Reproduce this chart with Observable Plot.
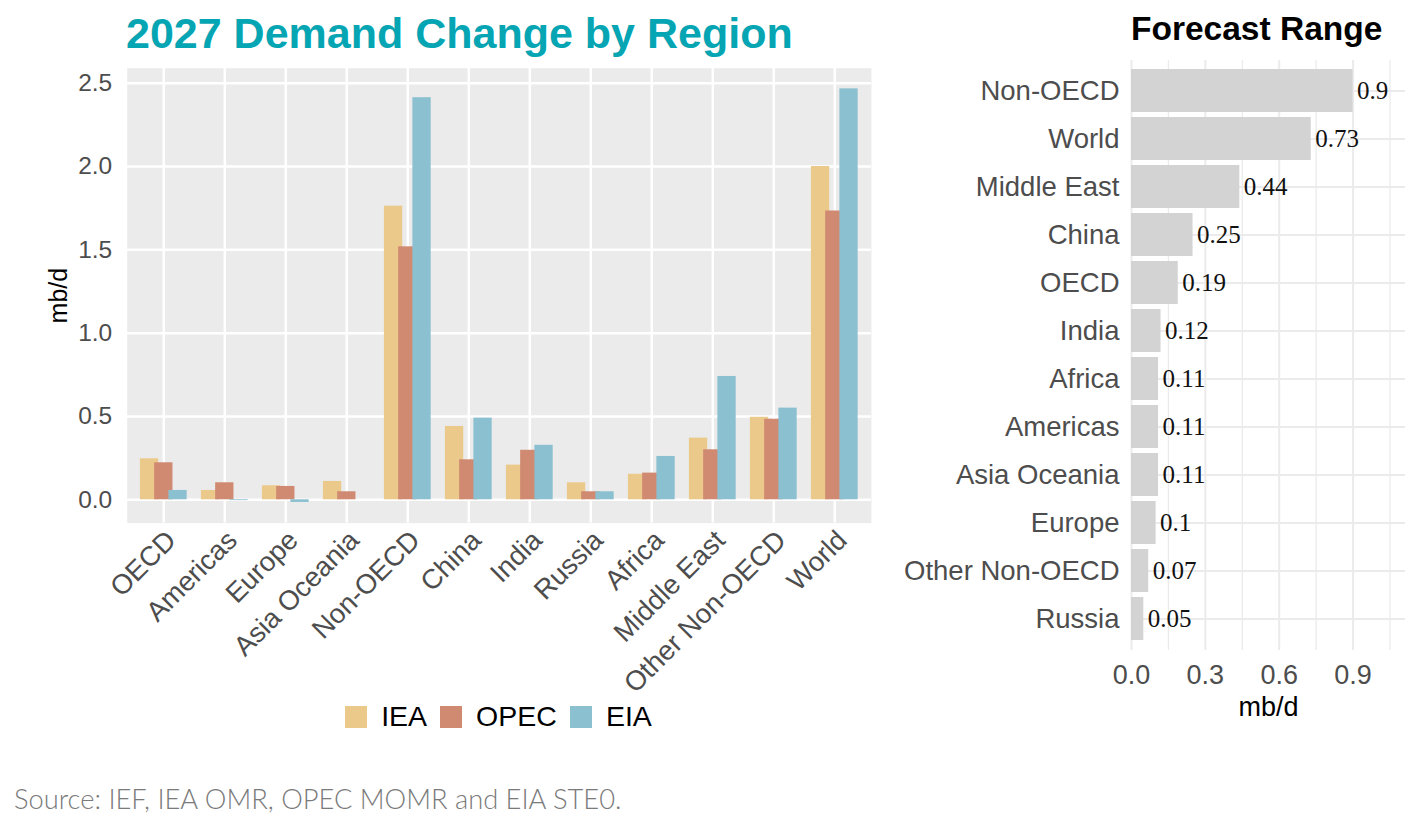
<!DOCTYPE html>
<html><head><meta charset="utf-8">
<script src="https://cdn.jsdelivr.net/npm/d3@7"></script>
<script src="https://cdn.jsdelivr.net/npm/@observablehq/plot@0.6"></script>
<style>
html,body{margin:0;padding:0;background:#fff;}
body{width:1410px;height:820px;position:relative;overflow:hidden;font-family:"Liberation Sans",Arial,sans-serif;}
.abs{position:absolute;}
#title{left:126px;top:12px;font-size:43px;font-weight:bold;color:#05A5B3;white-space:nowrap;line-height:1;}
#title2{left:1131px;top:12px;font-size:33.5px;font-weight:bold;color:#000;white-space:nowrap;line-height:1;}
#caption{left:14px;top:785px;font-family:Lato,"Liberation Sans",sans-serif;font-weight:300;font-size:27.3px;color:#7A7A7A;white-space:nowrap;line-height:1;}
#legend{left:0;top:700px;width:997px;display:flex;justify-content:center;}
#legend .lg-swatches{font-family:"Liberation Sans",Arial,sans-serif !important;font-size:28.5px !important;color:#000;margin:0 !important;}
#legend .lg-swatch{margin-right:13px !important;}
#legend .lg-swatch:last-child{margin-right:0 !important;}
#legend .lg-swatch > svg{margin-right:14px !important;}
#left{left:0;top:0;}
#right{left:880px;top:0;}
</style>
</head><body>
<div id="left" class="abs"></div>
<div id="right" class="abs"></div>
<div id="title" class="abs">2027 Demand Change by Region</div>
<div id="title2" class="abs">Forecast Range</div>
<div id="legend" class="abs"></div>
<div id="caption" class="abs">Source: IEF, IEA OMR, OPEC MOMR and EIA STE0.</div>
<script>
// ---- data ----
const regions = ["OECD","Americas","Europe","Asia Oceania","Non-OECD","China","India","Russia","Africa","Middle East","Other Non-OECD","World"];
const sources = ["IEA","OPEC","EIA"];
const sourceColors = ["#EBC98A","#D08A71","#8BC0D0"];
const ieaValues  = [0.246, 0.056, 0.084, 0.110, 1.762, 0.440, 0.208, 0.102, 0.153, 0.370, 0.495, 2.000];
const opecValues = [0.222, 0.102, 0.080, 0.048, 1.518, 0.240, 0.297, 0.048, 0.160, 0.300, 0.483, 1.733];
const eiaValues  = [0.056,-0.005,-0.016, 0.000, 2.413, 0.490, 0.327, 0.048, 0.260, 0.740, 0.550, 2.466];
const yTicks = [0, 0.5, 1.0, 1.5, 2.0, 2.5];

const rangeRegions = ["Non-OECD","World","Middle East","China","OECD","India","Africa","Americas","Asia Oceania","Europe","Other Non-OECD","Russia"];
const rangeValues  = [0.9, 0.73, 0.44, 0.25, 0.19, 0.12, 0.11, 0.11, 0.11, 0.1, 0.07, 0.05];
const rangeMajorTicks = [0, 0.3, 0.6, 0.9];
const rangeMinorTicks = [0.15, 0.45, 0.75, 1.05];

// ---- tables ----
const seriesValues = [ieaValues, opecValues, eiaValues];
const table = regions.flatMap((r, i) => sources.map((s, j) => ({region: r, i, source: s, j, value: seriesValues[j][i]})));
const rangeTable = rangeRegions.map((r, k) => ({region: r, range: rangeValues[k]}));

const dodgeStep = 0.7 / 3, barW = 0.3;

const left = Plot.plot({
  width: 880, height: 700,
  marginLeft: 126.7, marginRight: 9.1, marginTop: 67.7, marginBottom: 177.4,
  style: {fontFamily: "Liberation Sans, Arial, sans-serif", background: "transparent", overflow: "visible"},
  x: {type: "linear", domain: [-0.6, 11.6]},
  y: {domain: [-0.14, 2.59]},
  color: {domain: sources, range: sourceColors},
  marks: [
    Plot.frame({fill: "#EBEBEB", stroke: "none"}),
    Plot.gridY({ticks: yTicks, stroke: "#ffffff", strokeOpacity: 1, strokeWidth: 2.5}),
    Plot.gridX({ticks: d3.range(regions.length), stroke: "#ffffff", strokeOpacity: 1, strokeWidth: 2.5}),
    Plot.rect(table, {
      x1: d => d.i + (d.j - 1) * dodgeStep - barW / 2,
      x2: d => d.i + (d.j - 1) * dodgeStep + barW / 2,
      y1: 0, y2: "value", fill: "source"
    }),
    Plot.axisY({ticks: yTicks, tickFormat: d3.format(".1f"), tickSize: 0, tickPadding: 15, fontSize: 24.5, fill: "#4D4D4D", label: null}),
    Plot.axisX({ticks: d3.range(regions.length), tickFormat: i => regions[i], tickRotate: -45, textAnchor: "end", lineAnchor: "top", tickSize: 0, tickPadding: 5, fontSize: 27.5, fill: "#4D4D4D", label: null}),
    Plot.text(["mb/d"], {text: d => d, frameAnchor: "left", dx: -68, rotate: -90, textAnchor: "middle", lineAnchor: "middle", fontSize: 25, fill: "#000"})
  ]
});
document.getElementById("left").appendChild(left);

const right = Plot.plot({
  width: 530, height: 730,
  marginLeft: 251, marginRight: 5, marginTop: 60, marginBottom: 80,
  style: {fontFamily: "Liberation Sans, Arial, sans-serif", background: "transparent", overflow: "visible"},
  x: {domain: [0, 1.113]},
  y: {domain: rangeRegions, paddingInner: 0.1, paddingOuter: 0.15},
  marks: [
    Plot.gridX({ticks: rangeMinorTicks, stroke: "#EBEBEB", strokeOpacity: 1, strokeWidth: 1.3}),
    Plot.gridX({ticks: rangeMajorTicks, stroke: "#EBEBEB", strokeOpacity: 1, strokeWidth: 2}),
    Plot.gridY({stroke: "#EBEBEB", strokeOpacity: 1, strokeWidth: 2}),
    Plot.barX(rangeTable, {x: "range", y: "region", fill: "#D3D3D3"}),
    Plot.text(rangeTable, {x: "range", y: "region", text: d => String(d.range), textAnchor: "start", dx: 4, fontFamily: "Liberation Serif, Times New Roman, serif", fontSize: 25, fill: "#111"}),
    Plot.axisX({ticks: rangeMajorTicks, tickFormat: d3.format(".1f"), tickSize: 0, tickPadding: 14, fontSize: 27, fill: "#4D4D4D", label: null}),
    Plot.axisY({tickSize: 0, tickPadding: 12, fontSize: 27.5, fill: "#4D4D4D", label: null}),
    Plot.text(["mb/d"], {text: d => d, frameAnchor: "bottom", dy: 46, lineAnchor: "top", fontSize: 27, fill: "#000"})
  ]
});
document.getElementById("right").appendChild(right);

const legend = Plot.legend({
  color: {domain: sources, range: sourceColors},
  legend: "swatches", swatchSize: 22, className: "lg"
});
document.getElementById("legend").appendChild(legend);
</script>
</body></html>
